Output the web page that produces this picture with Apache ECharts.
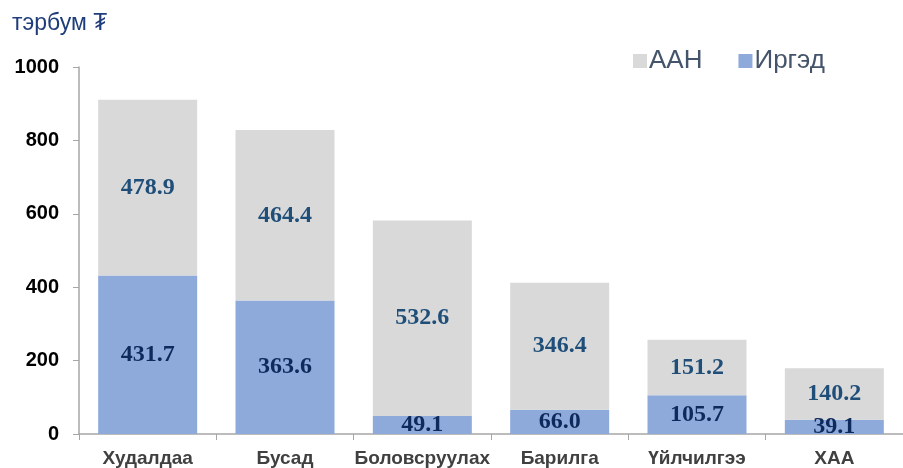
<!DOCTYPE html>
<html><head><meta charset="utf-8">
<script src="https://cdn.jsdelivr.net/npm/echarts@6/dist/echarts.min.js"></script>
<style>html,body{margin:0;padding:0;background:#fff}#c{width:903px;height:468px}</style>
</head><body><div id="c"></div>
<script>
const categories = ['Худалдаа','Бусад','Боловсруулах','Барилга','Үйлчилгээ','ХАА'];
const irgedValues = [431.7, 363.6, 49.1, 66.0, 105.7, 39.1];
const aanValues = [478.9, 464.4, 532.6, 346.4, 151.2, 140.2];
const yTicks = [0, 200, 400, 600, 800, 1000];

const chart = echarts.init(document.getElementById('c'), null, {renderer:'canvas'});
chart.setOption({
  animation:false,
  title:{text:'тэрбум ₮', left:7, top:7, textStyle:{fontFamily:'Liberation Sans, DejaVu Sans', fontSize:23, fontWeight:'normal', color:'#1F3D7A'}},
  legend:{
    data:['ААН','Иргэд'], left:628, top:43, itemWidth:14, itemHeight:14, itemGap:36,
    textStyle:{fontFamily:'Liberation Sans', fontSize:26, color:'#44546A', padding:[0,0,0,-3]},
    icon:'rect'
  },
  grid:{left:79, right:-11, top:67, bottom:34, containLabel:false},
  xAxis:{
    type:'category', data:categories,
    axisLine:{lineStyle:{color:'#A6A6A6', width:1.5}},
    axisTick:{show:true, length:6, lineStyle:{color:'#A6A6A6'}},
    axisLabel:{interval:0, hideOverlap:false, fontFamily:'Liberation Sans', fontWeight:'bold', fontSize:19, color:'#404040', margin:15}
  },
  yAxis:{
    type:'value', min:yTicks[0], max:yTicks[yTicks.length-1], interval:200,
    splitLine:{show:false},
    axisLine:{show:true, lineStyle:{color:'#A6A6A6', width:1.5}},
    axisTick:{show:true, length:6, lineStyle:{color:'#A6A6A6'}},
    axisLabel:{fontFamily:'Liberation Sans', fontWeight:'bold', fontSize:20, color:'#000', margin:20, formatter:v=>String(v)}
  },
  series:[
    {name:'Иргэд', type:'bar', stack:'s', data:irgedValues, barWidth:99,
     itemStyle:{color:'#8EAADB'},
     label:{show:true, position:'inside', formatter:p=>p.value.toFixed(1), fontFamily:'Liberation Serif', fontWeight:'bold', fontSize:24, color:'#0E2A5C'}},
    {name:'ААН', type:'bar', stack:'s', data:aanValues, barWidth:99,
     itemStyle:{color:'#D9D9D9'},
     label:{show:true, position:'inside', formatter:p=>p.value.toFixed(1), fontFamily:'Liberation Serif', fontWeight:'bold', fontSize:24, color:'#1F4E79'}}
  ]
});
</script></body></html>
